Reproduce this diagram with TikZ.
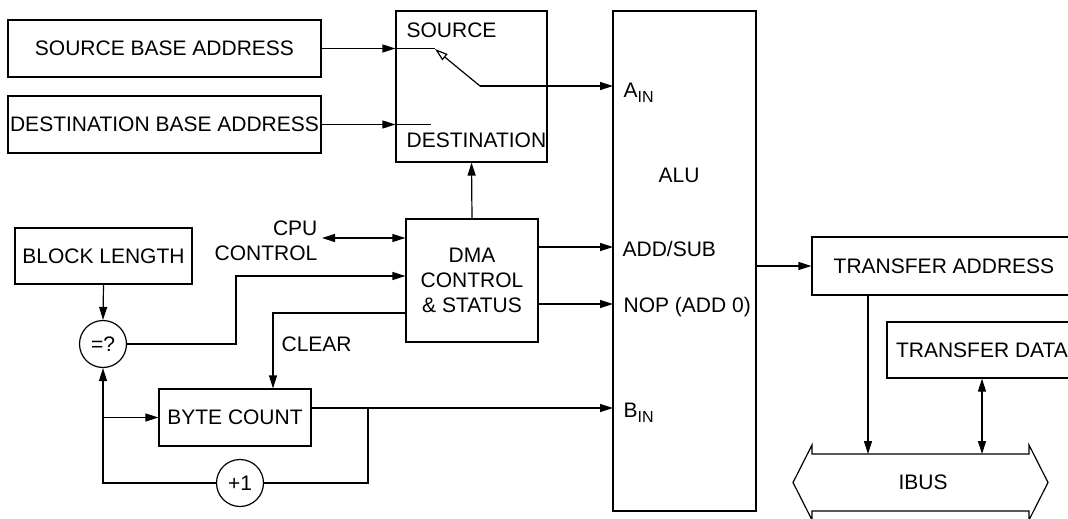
\documentclass[tikz,border=0pt]{standalone}
\usepackage{fontspec}
\setmainfont{Liberation Sans}
\usetikzlibrary{arrows.meta}
\newcommand\lowsub[1]{\raisebox{-5pt}{\fontsize{16}{16}\selectfont #1}}

\begin{document}
\begin{tikzpicture}
      [x=1pt,y=-1pt
      ,line width=1.2pt
      ,>={Triangle[length=13pt,width=8pt]}
      ,every node/.style={font=\fontsize{21}{25}\selectfont,inner sep=0pt}
      ,blk/.style={draw,rectangle}
      ,ring/.style={draw,circle,minimum size=47pt}
      ,lbl/.style={anchor=base west}
      ]
        \useasboundingbox (0,0) rectangle (1068,519);
        \clip (0,0) rectangle (1068,519);
        \node[blk,minimum width=313pt,minimum height=57pt] (srcbase) at (164.5,48.5) {SOURCE BASE ADDRESS};
        \node[blk,minimum width=313pt,minimum height=57pt] (dstbase) at (164.5,124.5) {DESTINATION BASE ADDRESS};
        \node[blk,minimum width=151pt,minimum height=151pt] (sel) at (471.5,86.5) {};
        \node[lbl] (srclbl) at (406,38) {SOURCE};
        \node[lbl] (dstlbl) at (406,147) {DESTINATION};
        \node[blk,minimum width=143pt,minimum height=500pt] (alu) at (684.5,261) {};
        \node[anchor=base] (alulbl) at (679,182) {ALU};
        \node[lbl] (ainl) at (623,97) {A\lowsub{IN}};
        \node[lbl] (asubl) at (622,256) {ADD/SUB};
        \node[lbl] (anopl) at (623,312) {NOP (ADD 0)};
        \node[lbl] (binl) at (623,417) {B\lowsub{IN}};
        \node[blk,minimum width=132pt,minimum height=123pt,align=center] (dma) at (472,280.5) {DMA\\CONTROL\\\& STATUS};
        \node[align=right,anchor=east] (cpul) at (318,241) {CPU\\CONTROL};
        \node[blk,minimum width=177pt,minimum height=56pt] (blen) at (103.5,256) {BLOCK LENGTH};
        \node[ring] (eq) at (103,344) {=?};
        \node[blk,minimum width=152pt,minimum height=57pt] (bc) at (235,417.5) {BYTE COUNT};
        \node[ring] (inc) at (240,483) {+1};
        \node[lbl] (clrl) at (281,351) {CLEAR};
        \node[blk,minimum width=264pt,minimum height=58pt] (ta) at (944,266) {TRANSFER ADDRESS};
        \node[blk,minimum width=190pt,minimum height=56pt] (td) at (982,350) {TRANSFER DATA};
        \node (ibus) at (923,482) {IBUS};
        \draw (812,454) -- (1029,454) -- (1029,445) -- (1048,482.5) -- (1029,520) -- (1029,511)
          -- (812,511) -- (812,520) -- (793,482.5) -- (812,445) -- cycle;

        \coordinate (swtip) at (435,49);
        \coordinate (swpiv) at (480,86);
        \coordinate (ain) at (613,86);
        \coordinate (asub) at (613,247);
        \coordinate (anop) at (613,304);
        \coordinate (bin) at (613,408);
        \coordinate (aout) at (756,266);
        \coordinate (cpu) at (322,238);
        \coordinate (cmp) at (236,276);
        \coordinate (clr) at (273,313);
        \coordinate (tap) at (368,408);
        \coordinate (bus1) at (868,454);

        \draw[->] (srcbase.east) -- (srcbase.east -| sel.west);
        \draw[->] (dstbase.east) -- (dstbase.east -| sel.west);
        \draw (srcbase.east -| sel.west) -- (srcbase.east -| swtip);
        \draw (dstbase.east -| sel.west) -- ++(36,0);
        \draw[-{Triangle[open,length=13pt,width=8pt]}] (swpiv) -- (swtip);
        \draw[->] (swpiv) -- (ain);
        \draw[->] (dma.north) -- (sel.south);
        \draw[<->] (cpu) -- (cpu -| dma.west);
        \draw[->] (blen.south) -- (eq.north);
        \draw[->] (eq.east) -| (cmp) -- (cmp -| dma.west);
        \draw[->] (clr -| dma.west) -- (clr) -- (clr |- bc.north);
        \draw[->] (dma.east |- asub) -- (asub);
        \draw[->] (dma.east |- anop) -- (anop);
        \draw[->] (bc.east |- bin) -- (bin);
        \draw (tap) -- (tap |- inc.east) -- (inc.east);
        \draw[->] (inc.west) -- (eq.south |- inc.west) -- (eq.south);
        \draw[->] (eq.south |- bc.west) -- (bc.west);
        \draw[->] (aout) -- (aout -| ta.west);
        \draw[->] (ta.south -| bus1) -- (bus1);
        \draw[<->] (td.south) -- (td.south |- bus1);
      \end{tikzpicture}
\end{document}
